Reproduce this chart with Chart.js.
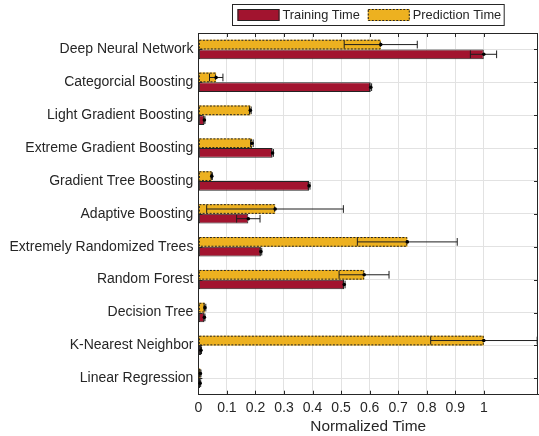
<!DOCTYPE html>
<html><head><meta charset="utf-8">
<script src="https://cdn.jsdelivr.net/npm/chart.js@4"></script>
<style>html,body{margin:0;padding:0;background:#fff}#wrap{width:539px;height:436px}</style>
</head><body><div id="wrap"><canvas id="c" width="539" height="436"></canvas></div>
<script>
const categories = ['Deep Neural Network','Categorcial Boosting','Light Gradient Boosting','Extreme Gradient Boosting','Gradient Tree Boosting','Adaptive Boosting','Extremely Randomized Trees','Random Forest','Decision Tree','K-Nearest Neighbor','Linear Regression'];
const seriesNames = ['Training Time','Prediction Time'];
const trainingTime = [1.0, 0.604, 0.021, 0.26, 0.388, 0.175, 0.219, 0.511, 0.021, 0.009, 0.006];
const trainingLow  = [0.953, 0.600, 0.019, 0.257, 0.385, 0.134, 0.216, 0.508, 0.019, 0.007, 0.004];
const trainingHigh = [1.045, 0.607, 0.023, 0.263, 0.391, 0.216, 0.222, 0.514, 0.023, 0.011, 0.008];
const predictionTime = [0.639, 0.062, 0.182, 0.188, 0.047, 0.269, 0.732, 0.581, 0.023, 1.0, 0.007];
const predictionLow  = [0.511, 0.039, 0.179, 0.183, 0.045, 0.029, 0.557, 0.493, 0.020, 0.814, 0.005];
const predictionHigh = [0.767, 0.086, 0.185, 0.192, 0.049, 0.508, 0.907, 0.668, 0.026, 1.187, 0.009];
const xTickValues = [0, 0.1, 0.2, 0.3, 0.4, 0.5, 0.6, 0.7, 0.8, 0.9, 1];
const xTickLabels = ['0','0.1','0.2','0.3','0.4','0.5','0.6','0.7','0.8','0.9','1'];
const xAxisTitle = 'Normalized Time';

const FONT = "'Liberation Sans', Arial, Helvetica, sans-serif";
const INK = '#262626';
const RED = '#A2142F';
const ORANGE = '#EDB120';
const GRID = '#e2e2e2';

const decor = {
  id: 'decor',
  afterDatasetsDraw(chart) {
    const ctx = chart.ctx;
    const xs = chart.scales.x;
    const pm = chart.getDatasetMeta(0);
    ctx.save();
    ctx.strokeStyle = '#222';
    ctx.lineWidth = 1;
    ctx.setLineDash([2, 1.5]);
    pm.data.forEach(el => {
      const p = el.getProps(['x','y','base','height'], true);
      const x0 = Math.min(p.base, p.x), x1 = Math.max(p.base, p.x);
      ctx.strokeRect(x0 + 0.5, p.y - p.height / 2 + 0.5, x1 - x0 - 1, p.height - 1);
    });
    ctx.restore();
    chart.data.datasets.forEach((ds, di) => {
      const meta = chart.getDatasetMeta(di);
      meta.data.forEach((el, i) => {
        const p = el.getProps(['x','y','height'], true);
        const lo = xs.getPixelForValue(ds.errLow[i]);
        const hi = xs.getPixelForValue(ds.errHigh[i]);
        const h = p.height / 2 - 1;
        ctx.save();
        ctx.strokeStyle = '#1e1e1e';
        ctx.lineWidth = 1;
        ctx.beginPath();
        ctx.moveTo(lo, p.y); ctx.lineTo(hi, p.y);
        ctx.moveTo(lo, p.y - h); ctx.lineTo(lo, p.y + h);
        ctx.moveTo(hi, p.y - h); ctx.lineTo(hi, p.y + h);
        ctx.stroke();
        ctx.fillStyle = '#000';
        ctx.beginPath();
        ctx.arc(xs.getPixelForValue(ds.data[i]), p.y, 1.8, 0, Math.PI * 2);
        ctx.fill();
        ctx.restore();
      });
    });
  },
  afterDraw(chart) {
    const ctx = chart.ctx;
    const a = chart.chartArea;
    ctx.save();
    ctx.strokeStyle = INK;
    ctx.lineWidth = 1;
    ctx.beginPath();
    ctx.moveTo(a.left, Math.round(a.top) + 0.5); ctx.lineTo(a.right, Math.round(a.top) + 0.5);
    ctx.moveTo(Math.round(a.right) - 0.5, a.top); ctx.lineTo(Math.round(a.right) - 0.5, a.bottom);
    const xs = chart.scales.x, ys = chart.scales.y;
    xs.ticks.forEach(t => {
      const px = Math.round(xs.getPixelForValue(t.value)) + 0.5;
      ctx.moveTo(px, a.bottom); ctx.lineTo(px, a.bottom - 4);
      ctx.moveTo(px, a.top); ctx.lineTo(px, a.top + 4);
    });
    categories.forEach((c, i) => {
      const py = Math.round(ys.getPixelForValue(i)) + 0.5;
      ctx.moveTo(a.left, py); ctx.lineTo(a.left + 4, py);
      ctx.moveTo(a.right, py); ctx.lineTo(a.right - 4, py);
    });
    ctx.stroke();
    // legend
    const fsz = 12.8;
    ctx.font = fsz + 'px ' + FONT;
    const items = [
      { label: seriesNames[0], color: RED, dash: [] },
      { label: seriesNames[1], color: ORANGE, dash: [2, 1.5] }
    ];
    const sw = 42, sh = 12, gapT = 3, gapI = 8, padL = 5, padR = 3;
    const widths = items.map(it => ctx.measureText(it.label).width);
    const total = padL + items.length * (sw + gapT) + widths.reduce((s, w) => s + w, 0) + gapI * (items.length - 1) + padR;
    const cx = (a.left + a.right) / 2;
    let bx = Math.round(cx - total / 2) + 0.5;
    const by = 4.5, bh = 21;
    ctx.fillStyle = '#fff';
    ctx.fillRect(bx, by, total, bh);
    ctx.strokeStyle = INK;
    ctx.setLineDash([]);
    ctx.strokeRect(bx, by, total, bh);
    let x = bx + padL;
    const yc = by + bh / 2;
    items.forEach((it, k) => {
      ctx.fillStyle = it.color;
      ctx.fillRect(x, yc - sh / 2, sw, sh);
      ctx.strokeStyle = '#222';
      ctx.setLineDash(it.dash);
      ctx.strokeRect(x + 0.5, yc - sh / 2 + 0.5, sw - 1, sh - 1);
      ctx.setLineDash([]);
      x += sw + gapT;
      ctx.fillStyle = INK;
      ctx.textBaseline = 'middle';
      ctx.textAlign = 'left';
      ctx.fillText(it.label, x, yc + 0.5);
      x += widths[k] + gapI;
    });
    ctx.restore();
  }
};

new Chart(document.getElementById('c'), {
  type: 'bar',
  data: {
    labels: categories,
    datasets: [
      { label: seriesNames[1], data: predictionTime, errLow: predictionLow, errHigh: predictionHigh,
        backgroundColor: ORANGE, borderWidth: 0, categoryPercentage: 0.59, barPercentage: 1 },
      { label: seriesNames[0], data: trainingTime, errLow: trainingLow, errHigh: trainingHigh,
        backgroundColor: RED, borderColor: '#222', borderWidth: 1, borderSkipped: false,
        categoryPercentage: 0.59, barPercentage: 1 }
    ]
  },
  options: {
    indexAxis: 'y',
    responsive: false,
    animation: false,
    devicePixelRatio: 1,
    layout: { padding: { top: 33, left: 4.5, right: 1, bottom: 2 } },
    plugins: { legend: { display: false }, tooltip: { enabled: false } },
    scales: {
      x: {
        type: 'linear', min: 0, max: 1.19,
        afterBuildTicks(s) { s.ticks = xTickValues.map(v => ({ value: v })); },
        ticks: { font: { family: FONT, size: 14 }, color: INK, padding: 5, maxRotation: 0, autoSkip: false,
          callback: (v, i) => xTickLabels[i] },
        grid: { color: GRID, drawTicks: false },
        border: { color: INK },
        title: { display: true, text: xAxisTitle, font: { family: FONT, size: 15.4 }, color: INK, padding: { top: -4.5, bottom: -1.5 } }
      },
      y: {
        ticks: { font: { family: FONT, size: 14 }, color: INK, padding: 5, autoSkip: false },
        grid: { offset: false, color: GRID, drawTicks: false },
        border: { color: INK }
      }
    }
  },
  plugins: [decor]
});
</script>
</body></html>
